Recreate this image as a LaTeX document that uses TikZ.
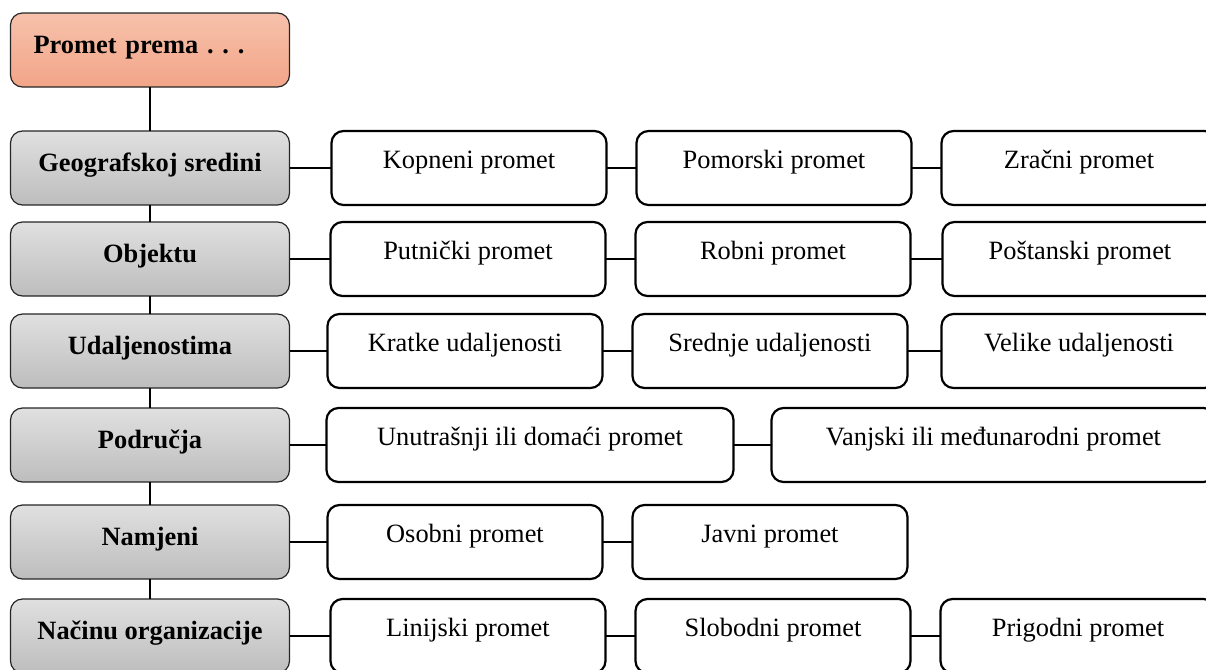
\documentclass[tikz,border=0pt]{standalone}
\usepackage{fontspec}
\setmainfont{Liberation Serif}
\usetikzlibrary{positioning}
\definecolor{headtop}{RGB}{247,193,171}
\definecolor{headbot}{RGB}{242,165,136}
\definecolor{greytop}{RGB}{224,224,224}
\definecolor{greybot}{RGB}{189,189,189}
\frenchspacing

\begin{document}
\begin{tikzpicture}[x=0.5pt,y=-0.5pt,node distance=15pt,
  left node/.style={draw=black!85,line width=0.6pt,rounded corners=6pt,
    top color=greytop,bottom color=greybot,minimum width=139.5pt,
    inner ysep=0pt,outer sep=0pt,text height=20pt,text depth=17pt,
    font=\fontsize{13.2}{16}\selectfont\bfseries},
  head node/.style={left node,top color=headtop,bottom color=headbot,
    inner xsep=11.5pt,text width=116.5pt,align=left},
  sub node/.style={draw,line width=1.1pt,rounded corners=6pt,fill=white,
    minimum width=137.5pt,inner ysep=0pt,outer sep=0pt,
    text height=18.5pt,text depth=18.5pt,
    font=\fontsize{13.2}{16}\selectfont},
  link/.style={draw,line width=0.6pt}]
  \useasboundingbox (0,0) rectangle (1206,670);
  \clip (0,0) rectangle (1206,670);
  \node[head node] (head) at (150,50) {Promet prema . . .};
  \node[left node] (g1) at (150,168) {Geografskoj sredini};
  \node[left node] (g2) at (150,259) {Objektu};
  \node[left node] (g3) at (150,351) {Udaljenostima};
  \node[left node] (g4) at (150,445) {Područja};
  \node[left node] (g5) at (150,542) {Namjeni};
  \node[left node] (g6) at (150,636) {Načinu organizacije};
  \node[sub node] (kopno)[right=21pt of g1] {Kopneni promet};
  \node[sub node] (more)[right=of kopno] {Pomorski promet};
  \node[sub node] (zrak)[right=15pt of more] {Zračni promet};
  \node[sub node] (putnik)[right=20.5pt of g2] {Putnički promet};
  \node[sub node] (roba)[right=of putnik] {Robni promet};
  \node[sub node] (posta)[right=16pt of roba] {Poštanski promet};
  \node[sub node] (kratke)[right=19pt of g3] {Kratke udaljenosti};
  \node[sub node] (srednje)[right=of kratke] {Srednje udaljenosti};
  \node[sub node] (velike)[right=17pt of srednje] {Velike udaljenosti};
  \node[sub node, minimum width=203.5pt] (unutra)[right=18.5pt of g4] {Unutrašnji ili domaći promet};
  \node[sub node, minimum width=222pt] (van)[right=19pt of unutra] {Vanjski ili međunarodni promet};
  \node[sub node] (osobni)[right=19pt of g5] {Osobni promet};
  \node[sub node] (javni)[right=of osobni] {Javni promet};
  \node[sub node] (linija)[right=20.5pt of g6] {Linijski promet};
  \node[sub node] (slobodno)[right=of linija] {Slobodni promet};
  \node[sub node] (prigoda)[right=15pt of slobodno] {Prigodni promet};
  \path[link]
    (head) edge (g1)
    (g1) edge (g2)
    (g2) edge (g3)
    (g3) edge (g4)
    (g4) edge (g5)
    (g5) edge (g6)
    (g1) edge (kopno)
    (kopno) edge (more)
    (more) edge (zrak)
    (g2) edge (putnik)
    (putnik) edge (roba)
    (roba) edge (posta)
    (g3) edge (kratke)
    (kratke) edge (srednje)
    (srednje) edge (velike)
    (g4) edge (unutra)
    (unutra) edge (van)
    (g5) edge (osobni)
    (osobni) edge (javni)
    (g6) edge (linija)
    (linija) edge (slobodno)
    (slobodno) edge (prigoda);
\end{tikzpicture}
\end{document}
